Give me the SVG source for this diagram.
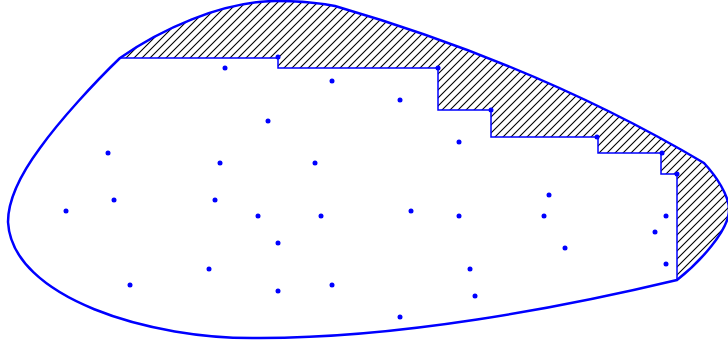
<svg xmlns="http://www.w3.org/2000/svg" width="728" height="347" viewBox="0 0 728 347">
<defs>
<pattern id="hatch" patternUnits="userSpaceOnUse" width="8" height="8">
<path d="M0,8 L8,0 M-2,2 L2,-2 M6,10 L10,6" stroke="#000" stroke-width="1.1" fill="none"/>
</pattern>
<style>
.outer{fill:none;stroke:#0000ff;stroke-width:2.5;stroke-linejoin:round}
.stair{fill:none;stroke:#0000ff;stroke-width:1.5}
.pt{fill:#0000ff}
</style>
</defs>
<rect width="728" height="347" fill="#fff"/>
<g id="hatched-region">
<path fill="url(#hatch)" d="M120,58 C160,30 220,2 275,1 C300,1 320,3 335,6 Q541,66 704,163 C716,176 729,195 729,210 C729,230 700,262 677,280 L677,174 L661,174 L661,153 L598,153 L598,137 L491,137 L491,110 L438,110 L438,68 L278,68 L278,58 Z"/>
</g>
<g id="outer-boundary">
<path class="outer" d="M120,58 C160,30 220,2 275,1 C300,1 320,3 335,6 Q541,66 704,163 C716,176 729,195 729,210 C729,230 700,262 677,280 C560,308 400,338 260,338 C150,340 12,298 8,222 C8,200 20,175 40,148 C60,120 95,82 120,58 Z"/>
</g>
<g id="staircase">
<polyline class="stair" points="120,58 278,58 278,68 438,68 438,110 491,110 491,137 598,137 598,153 661,153 661,174 677,174 677,280"/>
</g>
<g id="vertices">
<circle class="pt" cx="278" cy="57" r="2.5"/>
<circle class="pt" cx="438" cy="68" r="2.5"/>
<circle class="pt" cx="491" cy="110" r="2.5"/>
<circle class="pt" cx="597" cy="137" r="2.5"/>
<circle class="pt" cx="662" cy="153" r="2.5"/>
<circle class="pt" cx="677" cy="174" r="2.5"/>
</g>
<g id="points">
<circle class="pt" cx="225" cy="68" r="2.5"/>
<circle class="pt" cx="332" cy="81" r="2.5"/>
<circle class="pt" cx="268" cy="121" r="2.5"/>
<circle class="pt" cx="400" cy="100" r="2.5"/>
<circle class="pt" cx="459" cy="142" r="2.5"/>
<circle class="pt" cx="108" cy="153" r="2.5"/>
<circle class="pt" cx="220" cy="163" r="2.5"/>
<circle class="pt" cx="315" cy="163" r="2.5"/>
<circle class="pt" cx="114" cy="200" r="2.5"/>
<circle class="pt" cx="215" cy="200" r="2.5"/>
<circle class="pt" cx="66" cy="211" r="2.5"/>
<circle class="pt" cx="258" cy="216" r="2.5"/>
<circle class="pt" cx="321" cy="216" r="2.5"/>
<circle class="pt" cx="411" cy="211" r="2.5"/>
<circle class="pt" cx="459" cy="216" r="2.5"/>
<circle class="pt" cx="544" cy="216" r="2.5"/>
<circle class="pt" cx="549" cy="195" r="2.5"/>
<circle class="pt" cx="565" cy="248" r="2.5"/>
<circle class="pt" cx="666" cy="216" r="2.5"/>
<circle class="pt" cx="655" cy="232" r="2.5"/>
<circle class="pt" cx="666" cy="264" r="2.5"/>
<circle class="pt" cx="278" cy="243" r="2.5"/>
<circle class="pt" cx="209" cy="269" r="2.5"/>
<circle class="pt" cx="470" cy="269" r="2.5"/>
<circle class="pt" cx="130" cy="285" r="2.5"/>
<circle class="pt" cx="278" cy="291" r="2.5"/>
<circle class="pt" cx="332" cy="285" r="2.5"/>
<circle class="pt" cx="475" cy="296" r="2.5"/>
<circle class="pt" cx="400" cy="317" r="2.5"/>
</g>
</svg>
